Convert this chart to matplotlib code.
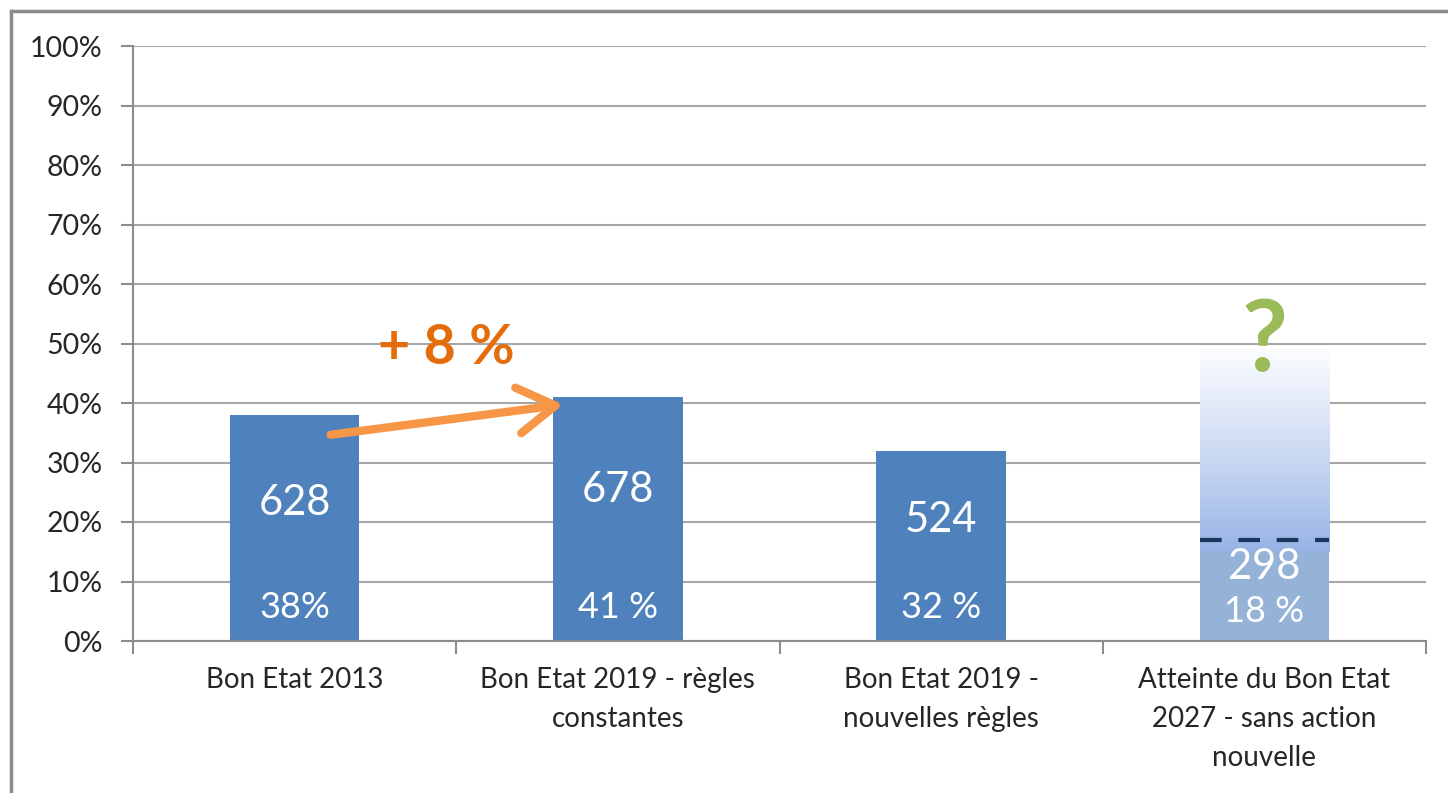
import numpy as np
import matplotlib.pyplot as plt
from matplotlib.patches import FancyArrowPatch, ArrowStyle
from matplotlib.lines import Line2D

plt.rcParams['font.family'] = ['Lato', 'DejaVu Sans']

categories = ['Bon Etat 2013', 'Bon Etat 2019 - règles\nconstantes',
              'Bon Etat 2019 -\nnouvelles règles',
              'Atteinte du Bon Etat\n2027 - sans action\nnouvelle']
pct = [38, 41, 32, 18]
counts = ['628', '678', '524', '298']
pct_labels = ['38%', '41 %', '32 %', '18 %']
target_2027 = 17          # dashed line
gradient_range = (15, 49)  # fading "?" zone above last bar

# label placement (in % units)
count_y = [23.2, 25.4, 20.3, 12.4]
pct_y = [5.7, 5.7, 5.7, 4.9]

fig = plt.figure(figsize=(14.48, 7.93), dpi=100)
ax = fig.add_axes([133 / 1448, 152 / 793, 1293 / 1448, 595 / 793])

x = np.arange(len(categories))
w = 0.4
colors = ['#4F81BD', '#4F81BD', '#4F81BD', '#95B3D7']
ax.bar(x, pct, width=w, color=colors, zorder=2)

# gradient over last bar
g0, g1 = gradient_range
t = np.linspace(0, 1, 256)[:, None]
bot = np.array([150, 178, 228]) / 255
top = np.array([252, 253, 255]) / 255
img = bot + (top - bot) * t[..., None] ** 0.9
img = np.repeat(img, 2, axis=1)
ax.imshow(img, extent=[x[3] - w / 2, x[3] + w / 2, g0, g1], origin='lower',
          aspect='auto', zorder=2.5)

ax.add_line(Line2D([x[3] - w / 2, x[3] + w / 2], [target_2027, target_2027],
                   color='#17375E', lw=3, linestyle=(0, (5.2, 4)), zorder=3))

for i in range(len(x)):
    ax.text(x[i], count_y[i], counts[i], color='white', fontsize=30,
            ha='center', va='center', zorder=4)
    ax.text(x[i], pct_y[i], pct_labels[i], color='white', fontsize=26,
            ha='center', va='center', zorder=4)

# +8 % arrow between first two bars
arr = FancyArrowPatch((0.103, 34.6), (0.84, 39.8),
                      arrowstyle=ArrowStyle('->', head_length=0.9, head_width=0.55),
                      mutation_scale=30, color='#F79646', lw=6, zorder=5)
ax.add_patch(arr)
ax.text(0.47, 49.3, '+ 8 %', color='#E46C0A', fontsize=40, fontweight='bold',
        ha='center', va='center', zorder=5)
ax.text(x[3], 50.2, '?', color='#9BBB59', fontsize=72, fontweight='bold',
        ha='center', va='center', zorder=5)

ax.set_xlim(-0.5, 3.5)
ax.set_ylim(0, 100)
ax.set_yticks(range(0, 101, 10))
ax.set_yticklabels([f'{v}%' for v in range(0, 101, 10)])
ax.set_xticks(x)
ax.set_xticklabels(categories, fontsize=20, color='#262626', linespacing=1.6)
ax.set_xticks(np.arange(-0.5, 4, 1), minor=True)
ax.tick_params(axis='x', which='major', length=0, pad=19)
ax.tick_params(axis='x', which='minor', length=9, width=1.5, color='#8C8C8C')
ax.tick_params(axis='y', length=9, width=1.5, color='#8C8C8C', pad=13,
               labelsize=20.5, labelcolor='#262626')

ax.grid(axis='y', color='#A6A6A6', lw=1.5, zorder=0)
ax.set_axisbelow(True)
for s in ['top', 'right']:
    ax.spines[s].set_visible(False)
for s in ['left', 'bottom']:
    ax.spines[s].set_color('#8C8C8C')
    ax.spines[s].set_linewidth(1.5)

# outer frame (top and left edges visible)
fig.add_artist(Line2D([11 / 1448, 11 / 1448], [0, 1 - 11 / 793],
                      transform=fig.transFigure, color='#8C8C8C', lw=2.5))
fig.add_artist(Line2D([11 / 1448, 1], [1 - 11 / 793, 1 - 11 / 793],
                      transform=fig.transFigure, color='#8C8C8C', lw=2.5))

fig.savefig('out.png', dpi=100)
